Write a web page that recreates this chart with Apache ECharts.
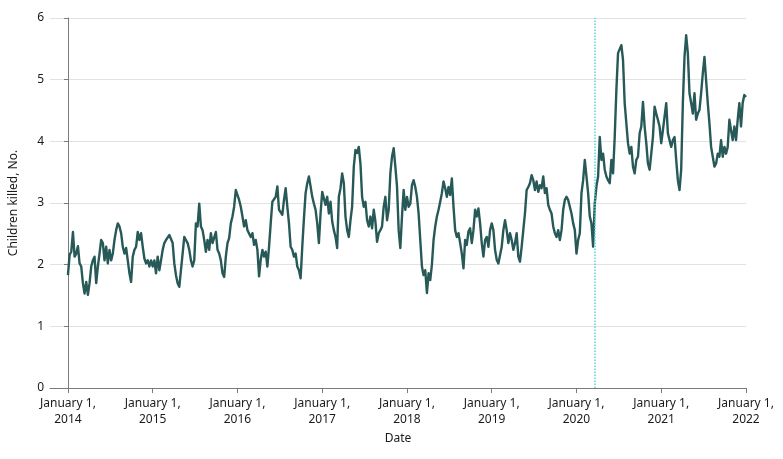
<!DOCTYPE html>
<html>
<head>
<meta charset="utf-8">
<script src="https://cdn.jsdelivr.net/npm/echarts@6/dist/echarts.min.js"></script>
<style>
html,body{margin:0;padding:0;background:#fff;}
#chart{width:783px;height:459px;}
</style>
</head>
<body>
<div id="chart"></div>
<script>
// Weekly values (children killed, No.)
const seg2014_2015 = [1.83,2.16,2.21,2.53,2.13,2.18,2.30,2.02,1.97,1.70,
1.53,1.72,1.51,1.70,1.97,2.07,2.13,1.70,1.97,2.18,
2.40,2.35,2.07,2.29,2.02,2.24,2.07,2.18,2.40,2.56,
2.67,2.62,2.51,2.29,2.18,2.27,2.07,1.86,1.72,2.13,
2.24,2.29,2.53,2.40,2.51,2.29,2.10,2.02,2.07,1.97,
2.07,1.97,2.07,1.86,2.13,1.91,2.07,2.24,2.35,2.40,
2.43,2.48,2.45,2.35,2.02,1.83,1.70,1.64,1.91,2.18,
2.45,2.40,2.35,2.24,2.07,1.97,2.07,2.67,2.62,2.99,
2.62,2.56,2.40,2.21,2.40,2.24,2.51,2.35,2.35,2.53,
2.24,2.18,2.07,1.86,1.80,2.13,2.35,2.43,2.67,2.78,
2.94,3.21,3.24,3.05,2.94];
const seg2016_2017 = [2.78,2.62,2.72,2.56,2.59,2.45,2.51,2.32,2.40,2.24,
1.81,2.08,2.24,2.13,2.21,1.97,2.29,2.67,3.02,3.05,
3.10,3.27,2.89,2.86,2.81,3.05,3.24,2.94,2.67,2.29,
2.24,2.13,2.18,1.97,1.91,1.78,2.29,2.75,3.16,3.32,
3.43,3.27,3.10,2.99,2.89,2.67,2.35,2.83,3.18,3.16,
2.97,3.10,2.83,3.02,2.70,2.56,2.45,2.27,3.10,3.24,
3.48,3.32,2.78,2.56,2.45,2.72,2.94,3.59,3.86,3.81,
3.91,3.64,3.10,2.94,3.02,2.72,2.62,2.78,2.59,2.89,
2.70,2.37,2.51,2.56,2.62,2.94,3.10,2.72,2.89,3.48,
3.75,3.89,3.59,3.27,2.56,2.27,2.78,3.21,2.89,3.10,
2.94,2.99];
const seg2018_2019 = [3.29,3.37,3.26,3.10,2.83,2.40,1.97,1.83,1.91,1.54,
1.86,1.75,2.00,2.40,2.62,2.78,2.89,3.02,3.16,3.35,
3.24,3.10,3.26,3.13,3.40,2.94,2.56,2.45,2.51,2.35,
2.18,1.94,2.40,2.32,2.54,2.59,2.35,2.56,2.89,2.78,
2.91,2.67,2.35,2.13,2.40,2.45,2.29,2.56,2.67,2.56,
2.24,2.08,2.02,2.00,2.29,2.56,2.72,2.56,2.35,2.51,
2.40,2.24,2.35,2.51,2.13,2.05,2.29,2.56,2.83,3.21,
3.26,3.32,3.45,3.37,3.21,3.35,3.18,3.29,3.24,3.43,
3.16,3.24,2.97,2.89,2.83,2.62,2.51,2.45,2.56,2.40,
2.56,2.89,3.05,3.10,3.05,3.02,2.83,2.67,2.56,2.18,
2.40,2.51];
const seg2020_2021 = [3.16,3.37,3.70,3.43,3.16,2.78,2.67,2.29,2.99,3.27,
3.43,4.07,3.70,3.80,3.54,3.43,3.37,3.32,3.70,3.48,
4.07,4.83,5.43,5.45,5.56,5.32,4.62,4.29,3.97,3.80,
3.91,3.59,3.48,3.70,3.75,4.13,4.24,4.64,4.24,3.97,
3.64,3.54,3.80,4.07,4.56,4.45,4.35,4.24,3.97,4.18,
4.40,4.62,4.13,4.02,3.91,4.02,4.07,3.70,3.37,3.21,
3.54,4.62,5.37,5.72,5.43,4.78,4.62,4.45,4.78,4.35,
4.45,4.51,4.78,5.10,5.37,4.99,4.62,4.29,3.91,3.75,
3.59,3.64,3.80,3.75,4.02,3.75,3.91,3.80,3.91,4.35,
4.18,4.02,4.24,4.02,4.35,4.62,4.24,4.62,4.75,4.72];

const startYear = 2014;
const yearTicks = [0,1,2,3,4,5,6,7,8];        // years after Jan 1, 2014
const markerYear = 6.21;                      // mid-March 2020 (dotted line)

const values = [].concat(seg2014_2015, seg2016_2017, seg2018_2019, seg2020_2021);
const stepYears = 8 / (values.length - 1);    // weekly samples
const data = values.map((v, i) => [i * stepYears, v]);

const font = "'Noto Sans', 'Open Sans', sans-serif";
const chart = echarts.init(document.getElementById('chart'), null, {renderer: 'canvas'});
chart.setOption({
  animation: false,
  backgroundColor: '#fff',
  grid: {left: 48, right: 37, top: 18, bottom: 71, containLabel: false},
  xAxis: {
    type: 'value',
    min: -0.2118,
    max: 8,
    name: 'Date',
    nameLocation: 'middle',
    nameGap: 45,
    nameTextStyle: {fontFamily: font, fontSize: 12, color: '#1a1a1a'},
    axisLine: {show: true, lineStyle: {color: '#7a7a7a', width: 1}},
    axisTick: {show: true, length: 5, lineStyle: {color: '#7a7a7a'}, customValues: yearTicks},
    axisLabel: {
      customValues: yearTicks,
      formatter: v => 'January 1,\n' + (startYear + Math.round(v)),
      fontFamily: font, fontSize: 12, color: '#1a1a1a', lineHeight: 16, margin: 8
    },
    splitLine: {show: false}
  },
  yAxis: {
    type: 'value',
    min: 0,
    max: 6,
    interval: 1,
    name: 'Children killed, No.',
    nameLocation: 'middle',
    nameGap: 30,
    nameTextStyle: {fontFamily: font, fontSize: 12, color: '#1a1a1a'},
    axisLine: {show: true, lineStyle: {color: '#7a7a7a', width: 1}},
    axisTick: {show: true, length: 4, lineStyle: {color: '#7a7a7a'}},
    axisLabel: {fontFamily: font, fontSize: 12, color: '#1a1a1a', margin: 6},
    splitLine: {show: true, lineStyle: {color: '#e2e2e2', width: 1}}
  },
  series: [{
    type: 'line',
    data: data,
    showSymbol: false,
    symbol: 'none',
    lineStyle: {color: '#265957', width: 2.4, join: 'round'},
    markLine: {
      silent: true,
      symbol: 'none',
      label: {show: false},
      lineStyle: {color: '#55d4d8', type: 'dotted', width: 1.5},
      data: [{xAxis: markerYear}]
    }
  }]
});
</script>
</body>
</html>
